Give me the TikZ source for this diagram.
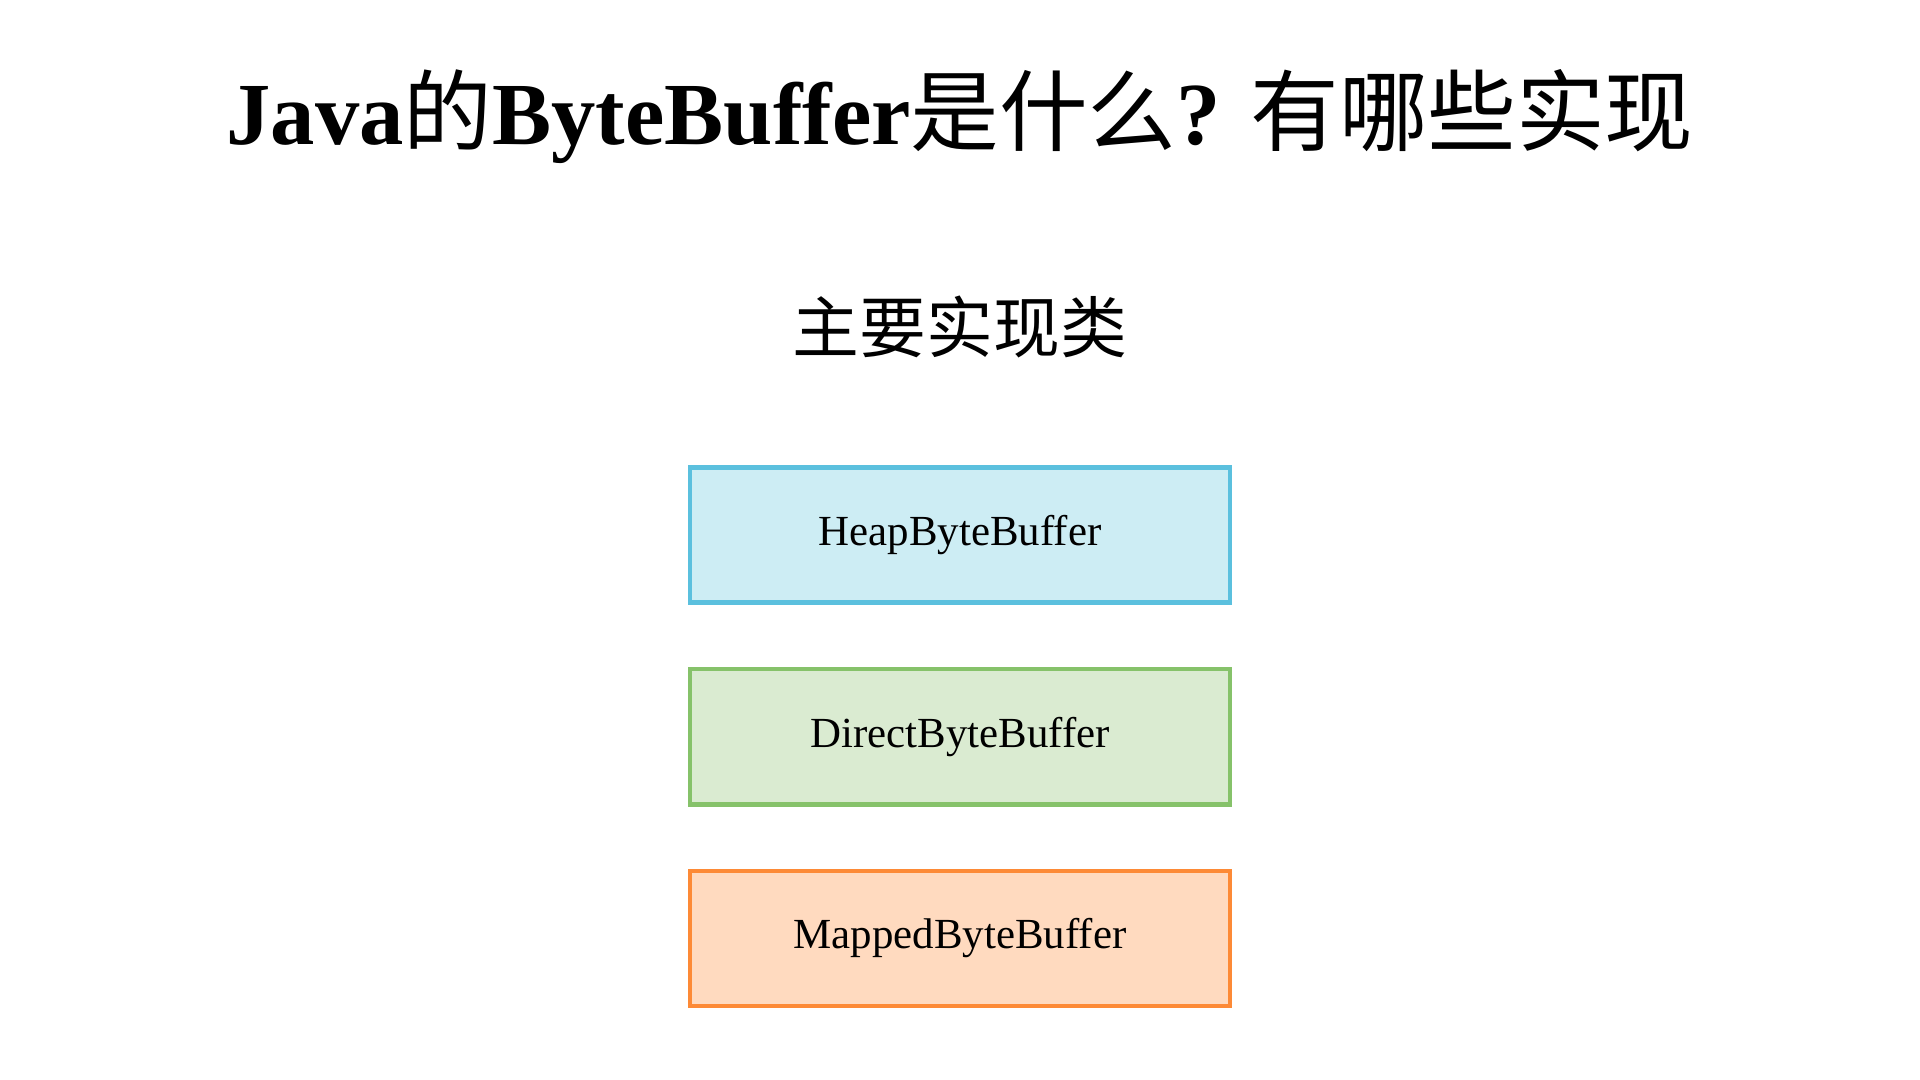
\documentclass[tikz,border=0pt]{standalone}
\usepackage{fontspec}
\setmainfont{Liberation Serif}
\newfontfamily\cjk{Noto Sans CJK SC}
\usetikzlibrary{positioning}
\definecolor{heapline}{HTML}{5BC0DE}
\definecolor{heapfill}{HTML}{CDEDF4}
\definecolor{directline}{HTML}{86C26A}
\definecolor{directfill}{HTML}{DAEBD1}
\definecolor{mappedline}{HTML}{FD8A36}
\definecolor{mappedfill}{HTML}{FFDABF}
\tikzset{
	bufbox/.style={draw, line width=1.3pt, minimum width=5.4cm, minimum height=1.35cm, inner sep=0pt, font=\fontsize{12.2}{14}\selectfont}
}
\begin{document}
\begin{tikzpicture}[x=0.01cm, y=-0.01cm]
				\useasboundingbox (0,0) rectangle (1920,1080);
				% Title
				\node[anchor=base] (title) at (960,145) {\fontsize{25.2}{30}\selectfont\bfseries Java{\cjk\mdseries 的}ByteBuffer{\cjk\mdseries 是什么}? {\cjk\mdseries 有哪些实现}};
				\node[anchor=base] (sub) at (960,353) {\fontsize{19}{22}\selectfont\cjk 主要实现类};

				% Implementations
				\node[bufbox, draw=heapline, fill=heapfill] (heap) at (960,535) {HeapByteBuffer};
				\node[bufbox, draw=directline, fill=directfill, below=0.62cm of heap] (direct) {DirectByteBuffer};
				\node[bufbox, draw=mappedline, fill=mappedfill, below=0.62cm of direct] (mapped) {MappedByteBuffer};
			\end{tikzpicture}
\end{document}
